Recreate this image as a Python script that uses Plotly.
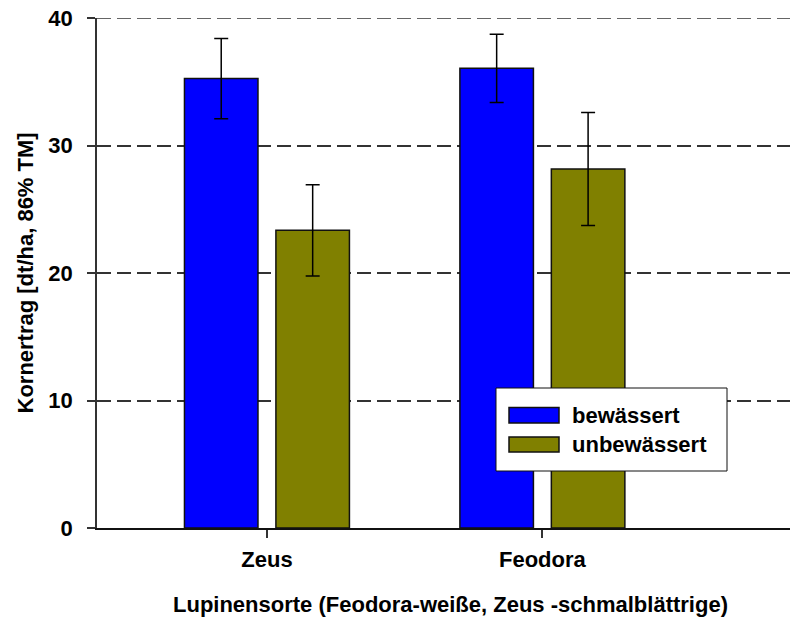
import plotly.graph_objects as go

# Lupin grain yield by variety and irrigation treatment
categories = ["Zeus", "Feodora"]
series_names = ["bewässert", "unbewässert"]
bewaessert = [35.25, 36.05]
bewaessert_err = [3.15, 2.68]
unbewaessert = [23.35, 28.15]
unbewaessert_err = [3.58, 4.43]
y_ticks = [0, 10, 20, 30, 40]

colors = ["#0000FF", "#808000"]
FONT = "Arial, 'Liberation Sans', sans-serif"
FS = 22
GRID = dict(color="#333333", width=1.5, dash="14px,6px")

fig = go.Figure()
for name, vals, errs, col in zip(series_names,
                                 [bewaessert, unbewaessert],
                                 [bewaessert_err, unbewaessert_err],
                                 colors):
    fig.add_trace(go.Bar(
        x=categories, y=vals, name=name,
        marker=dict(color=col, line=dict(color="#111111", width=1.5)),
        error_y=dict(type="data", array=errs, visible=True,
                     color="#000000", thickness=1.5, width=7),
        showlegend=False,
    ))

tick_font = dict(family=FONT, size=FS, color="#000000", weight="bold")

fig.update_layout(
    width=792, height=617,
    margin=dict(l=97, r=2, t=18, b=89),
    paper_bgcolor="white", plot_bgcolor="white",
    barmode="group", bargap=0.336, bargroupgap=0.196,
    xaxis=dict(
        range=[-0.617, 1.899], showgrid=False, zeroline=False,
        showline=True, linecolor="#111111", linewidth=2,
        ticks="outside", ticklen=8, tickwidth=1.5, tickcolor="#333333",
        tickfont=tick_font, ticklabelstandoff=3,
    ),
    yaxis=dict(
        range=[y_ticks[0], y_ticks[-1]], tickvals=y_ticks, zeroline=False,
        showgrid=True, gridcolor=GRID["color"], gridwidth=GRID["width"],
        griddash=GRID["dash"],
        showline=True, linecolor="#333333", linewidth=1.5,
        ticks="outside", ticklen=8, tickwidth=1.5, tickcolor="#333333",
        tickfont=tick_font, ticklabelstandoff=10,
    ),
    font=dict(family=FONT, color="#000000"),
)

# dashed grid line along the top tick (edge of the plot area)
fig.add_shape(type="line", xref="paper", yref="y",
              x0=0, x1=1, y0=y_ticks[-1], y1=y_ticks[-1],
              line=GRID, layer="below")

# Axis titles
fig.add_annotation(
    text="Kornertrag [dt/ha, 86% TM]", xref="paper", yref="paper",
    x=(25 - 97) / 693, y=(528 - 273.5) / 510, textangle=-90, showarrow=False,
    xanchor="center", yanchor="middle",
    font=dict(family=FONT, size=FS, color="#000000", weight="bold"),
)
fig.add_annotation(
    text="Lupinensorte (Feodora-weiße, Zeus -schmalblättrige)",
    xref="paper", yref="paper",
    x=(450 - 97) / 693, y=-(604 - 528) / 510, showarrow=False,
    xanchor="center", yanchor="middle",
    font=dict(family=FONT, size=FS, color="#000000", weight="bold"),
)

# Legend box with swatches
lx0, lx1 = (496 - 97) / 693, (727 - 97) / 693
ly0, ly1 = (528 - 471) / 510, (528 - 388) / 510
fig.add_shape(type="rect", xref="paper", yref="paper",
              x0=lx0, x1=lx1, y0=ly0, y1=ly1,
              line=dict(color="#111111", width=1), fillcolor="white")
sw_x0, sw_x1 = (509 - 97) / 693, (559 - 97) / 693
sw_rows = [(407.5, 423), (437, 452)]
for (top, bot), name, col in zip(sw_rows, series_names, colors):
    fig.add_shape(type="rect", xref="paper", yref="paper",
                  x0=sw_x0, x1=sw_x1,
                  y0=(528 - bot) / 510, y1=(528 - top) / 510,
                  line=dict(color="#111111", width=1.5), fillcolor=col)
    fig.add_annotation(
        text=name, xref="paper", yref="paper",
        x=(570 - 97) / 693, y=(528 - (top + bot) / 2) / 510,
        showarrow=False, xanchor="left", yanchor="middle",
        font=dict(family=FONT, size=FS, color="#000000", weight="bold"),
    )

fig.write_html("out.html")
